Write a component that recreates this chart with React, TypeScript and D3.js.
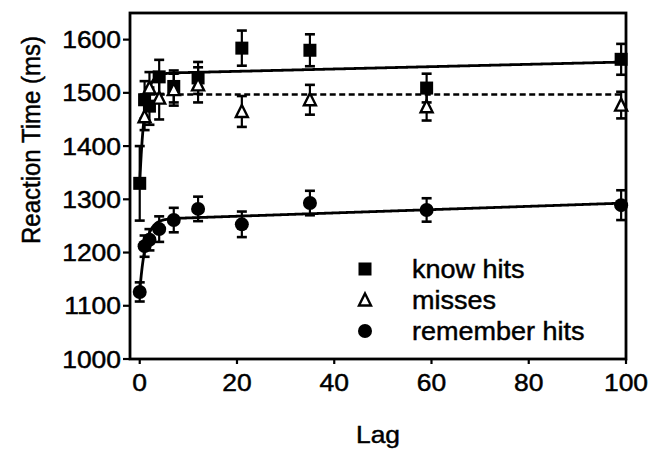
import React from "react";
import * as d3 from "d3";

// Lag (items between study and test) for each condition
const lags = [0, 1, 2, 4, 7, 12, 21, 35, 59, 99];
const missLags = [1, 2, 4, 7, 12, 21, 35, 59, 99];

// Mean reaction times (ms) and standard errors
const knowHits = [1330, 1487, 1475, 1530, 1512, 1528, 1584, 1580, 1509, 1563];
const knowErr = [70, 35, 35, 32, 30, 30, 33, 30, 27, 29];
const misses = [1455, 1509, 1490, 1506, 1515, 1465, 1487, 1474, 1477];
const missErr = [25, 30, 40, 30, 33, 29, 28, 26, 25];
const rememberHits = [1126, 1212, 1224, 1244, 1261, 1282, 1253, 1293, 1280, 1289];
const rememberErr = [18, 20, 20, 24, 23, 23, 24, 23, 22, 28];

// Fitted curves: intercept, linear slope, exponential amplitude, time constant
const knowFit = [1536, 0.22, 206, 1.0];
const rememberFit = [1262, 0.31, 136, 1.2];
const missFit = [1497, 0, 0, 1];

const yTicks = [1000, 1100, 1200, 1300, 1400, 1500, 1600];
const xTicks = [0, 20, 40, 60, 80, 100];
const legendLabels = ["know hits", "misses", "remember hits"];

const W = 652;
const H = 449;
const FONT = "'Liberation Sans', Arial, Helvetica, sans-serif";

const x = d3.scaleLinear().domain([-2, 100]).range([130, 626]);
const y = d3.scaleLinear().domain([1000, 1650]).range([359, 13]);

function fitCurve(p: number[], from: number, to: number) {
  const [a, s, b, tau] = p;
  const pts = d3.range(from, to + 0.001, 0.1).map((l) => [l, a + s * l - b * Math.exp(-l / tau)] as [number, number]);
  return d3.line<[number, number]>().x((d) => x(d[0])).y((d) => y(d[1]))(pts) || "";
}

function ErrorBars({ xs, ys, es }: { xs: number[]; ys: number[]; es: number[] }) {
  return (
    <g stroke="#000" strokeWidth={2.2}>
      {ys.map((v, i) => {
        const cx = x(xs[i]);
        const y1 = y(v + es[i]);
        const y2 = y(v - es[i]);
        return (
          <g key={i}>
            <line x1={cx} x2={cx} y1={y1} y2={y2} />
            <line x1={cx - 5} x2={cx + 5} y1={y1} y2={y1} strokeWidth={2.6} />
            <line x1={cx - 5} x2={cx + 5} y1={y2} y2={y2} strokeWidth={2.6} />
          </g>
        );
      })}
    </g>
  );
}

function Square({ cx, cy }: { cx: number; cy: number }) {
  return <rect x={cx - 6.5} y={cy - 6.5} width={13} height={13} fill="#000" />;
}
function Triangle({ cx, cy }: { cx: number; cy: number }) {
  const s = 6;
  return (
    <path
      d={`M${cx},${cy - s - 0.5} L${cx + s},${cy + s - 0.5} L${cx - s},${cy + s - 0.5} Z`}
      fill="#fff"
      stroke="#000"
      strokeWidth={2.4}
      strokeLinejoin="miter"
    />
  );
}
function Dot({ cx, cy }: { cx: number; cy: number }) {
  return <circle cx={cx} cy={cy} r={7} fill="#000" />;
}

function StretchText({ tx, ty, anchor, size, sx, children }: any) {
  return (
    <text
      transform={`translate(${tx},${ty}) scale(${sx},1)`}
      textAnchor={anchor}
      fontSize={size}
      fontFamily={FONT}
      fill="#000"
      stroke="#000"
      strokeWidth={0.45}
    >
      {children}
    </text>
  );
}

export default function App() {
  const [x0, x1] = x.range();
  const [yb, yt] = y.range();
  return (
    <svg width={W} height={H} style={{ position: "absolute", left: 0, top: 0, background: "#fff" }}>
      <rect width={W} height={H} fill="#fff" />

      {/* fitted curves */}
      <path d={fitCurve(knowFit, 0, 99)} fill="none" stroke="#000" strokeWidth={2.8} />
      <path d={fitCurve(rememberFit, 0, 99)} fill="none" stroke="#000" strokeWidth={2.8} />
      <path d={fitCurve(missFit, 0, 99)} fill="none" stroke="#000" strokeWidth={2.6} strokeDasharray="6,3.5" />

      {/* know hits */}
      <ErrorBars xs={lags} ys={knowHits} es={knowErr} />
      {knowHits.map((v, i) => (
        <Square key={i} cx={x(lags[i])} cy={y(v)} />
      ))}

      {/* misses */}
      <ErrorBars xs={missLags} ys={misses} es={missErr} />
      {misses.map((v, i) => (
        <Triangle key={i} cx={x(missLags[i])} cy={y(v)} />
      ))}

      {/* remember hits */}
      <ErrorBars xs={lags} ys={rememberHits} es={rememberErr} />
      {rememberHits.map((v, i) => (
        <Dot key={i} cx={x(lags[i])} cy={y(v)} />
      ))}

      {/* frame */}
      <rect x={x0} y={yt} width={x1 - x0} height={yb - yt} fill="none" stroke="#000" strokeWidth={2.8} />

      {/* y axis */}
      {yTicks.map((t) => (
        <g key={t}>
          <line x1={x0 - 7} x2={x0} y1={y(t)} y2={y(t)} stroke="#000" strokeWidth={2.2} />
          <StretchText tx={121} ty={y(t) + 8.5} anchor="end" size={23} sx={1.15}>
            {t}
          </StretchText>
        </g>
      ))}

      {/* x axis */}
      {xTicks.map((t) => (
        <g key={t}>
          <line x1={x(t)} x2={x(t)} y1={yb} y2={yb + 5} stroke="#000" strokeWidth={2.2} />
          <StretchText tx={x(t)} ty={391} anchor="middle" size={23} sx={1.15}>
            {t}
          </StretchText>
        </g>
      ))}

      <StretchText tx={(x0 + x1) / 2} ty={443} anchor="middle" size={24} sx={1.1}>
        Lag
      </StretchText>
      <text
        transform={`translate(40,140) rotate(-90) scale(1,1.1)`}
        textAnchor="middle"
        fontSize={24}
        fontFamily={FONT}
        stroke="#000"
        strokeWidth={0.45}
      >
        Reaction Time (ms)
      </text>

      {/* legend */}
      {legendLabels.map((lab, i) => {
        const ly = 269 + i * 31;
        return (
          <g key={lab}>
            {i === 0 && <Square cx={365} cy={ly} />}
            {i === 1 && <Triangle cx={365} cy={ly} />}
            {i === 2 && <Dot cx={365} cy={ly} />}
            <StretchText tx={412} ty={ly + 9} anchor="start" size={25} sx={1.08}>
              {lab}
            </StretchText>
          </g>
        );
      })}
    </svg>
  );
}
